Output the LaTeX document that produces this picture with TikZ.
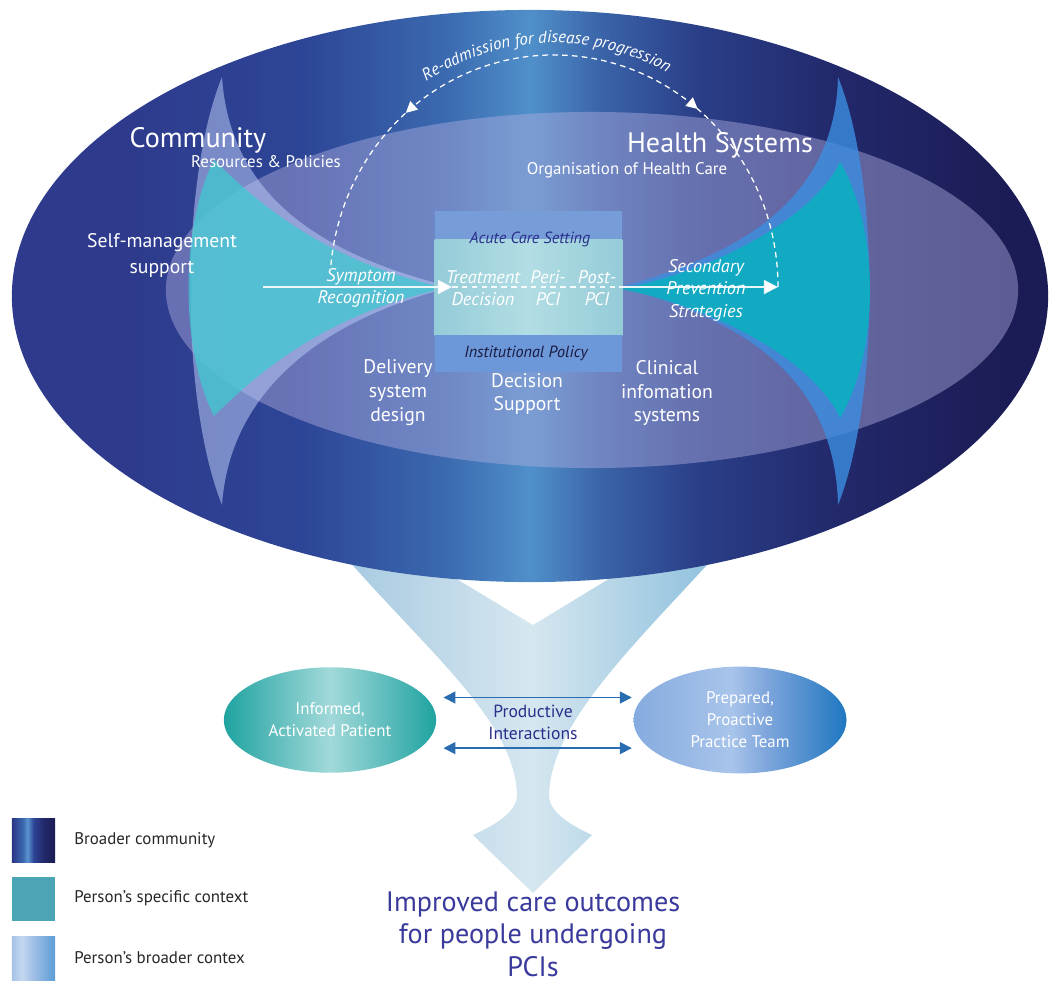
\documentclass[tikz,border=0pt]{standalone}
\usepackage{fontspec}
\setmainfont{PT Sans}
\usepackage{tikz}
\usetikzlibrary{shapes.geometric, arrows.meta, positioning, calc, decorations.markings, decorations.text}

\definecolor{commleft}{HTML}{2E3A8C}
\definecolor{commmid}{HTML}{2D4596}
\definecolor{commsoft}{HTML}{3B6AB0}
\definecolor{commlight}{HTML}{5090CA}
\definecolor{commsofttwo}{HTML}{3A63A8}
\definecolor{commdark}{HTML}{2A3F88}
\definecolor{commright}{HTML}{22286A}
\definecolor{commdeep}{HTML}{1B1C55}
\definecolor{lavender}{HTML}{B0AEE0}
\definecolor{hornpale}{HTML}{B8C8F5}
\definecolor{hornblue}{HTML}{3C8EE0}
\definecolor{tealpale}{HTML}{40C8D0}
\definecolor{tealdeep}{HTML}{0AB0C0}
\definecolor{bandblue}{HTML}{779DD8}
\definecolor{bandlow}{HTML}{6C97D8}
\definecolor{bandteal}{HTML}{94CCD8}
\definecolor{bandtealhi}{HTML}{B2DDE4}
\definecolor{inkblue}{HTML}{2A2F8A}
\definecolor{inkdark}{HTML}{1A1A40}
\definecolor{outcome}{HTML}{3A3A9C}
\definecolor{arrowblue}{HTML}{2A6CB0}
\definecolor{funnelside}{HTML}{A4C8E0}
\definecolor{funnelmid}{HTML}{D6E7F0}
\definecolor{funnelright}{HTML}{8BBEDC}
\definecolor{patientedge}{HTML}{1FA3A0}
\definecolor{patientmid}{HTML}{A2D9DA}
\definecolor{teamleft}{HTML}{86ABDF}
\definecolor{teammid}{HTML}{A8C4EA}
\definecolor{teamdip}{HTML}{7FA6DC}
\definecolor{teamright}{HTML}{1E77C0}
\definecolor{legnavy}{HTML}{2B3587}
\definecolor{legstripe}{HTML}{5C94D0}
\definecolor{legnavydark}{HTML}{1A1C55}
\definecolor{legteal}{HTML}{4BA5B5}
\definecolor{legpale}{HTML}{A8C3E8}
\definecolor{legpalehi}{HTML}{C4D7F0}
\definecolor{legpaleend}{HTML}{5A9DD6}

\pgfdeclarehorizontalshading{broadcomm}{100bp}{color(0bp)=(commleft); color(25bp)=(commleft); color(30bp)=(commleft); color(39bp)=(commmid); color(46bp)=(commsoft); color(50bp)=(commlight); color(53.5bp)=(commsofttwo); color(58bp)=(commdark); color(65bp)=(commright); color(73bp)=(commdeep); color(100bp)=(commdeep)}
\pgfdeclarehorizontalshading{teamshade}{100bp}{color(0bp)=(teamleft); color(25bp)=(teamleft); color(48bp)=(teammid); color(56bp)=(teamdip); color(75bp)=(teamright); color(100bp)=(teamright)}
\pgfdeclarehorizontalshading{legdark}{100bp}{color(0bp)=(legnavy); color(25bp)=(legnavy); color(38bp)=(commsoft); color(43bp)=(legstripe); color(50bp)=(commmid); color(62bp)=(commright); color(75bp)=(legnavydark); color(100bp)=(legnavydark)}
\pgfdeclarehorizontalshading{legpale}{100bp}{color(0bp)=(legpale); color(25bp)=(legpale); color(37bp)=(legpalehi); color(47bp)=(legpale); color(75bp)=(legpaleend); color(100bp)=(legpaleend)}

\begin{document}
\begin{tikzpicture}[x=0.025cm, y=-0.025cm,
    lbl/.style={text=white, align=center, font=\fontsize{14}{17}\selectfont},
    itlbl/.style={text=white, align=center, font=\fontsize{13}{15.6}\selectfont\itshape},
    bigtitle/.style={text=white, font=\fontsize{20}{24}\selectfont},
    subtitle/.style={text=white, font=\fontsize{12}{14}\selectfont},
    bandlabel/.style={font=\fontsize{11.5}{14}\selectfont\itshape},
    flow/.style={white, line width=1.4pt, draw opacity=0.9},
    readmit/.style={white, line width=0.9pt, dash pattern=on 4pt off 3pt},
    interact/.style={arrowblue, line width=1.2pt, {Triangle[length=8.5pt,width=8.5pt]}-{Triangle[length=8.5pt,width=8.5pt]}},
    oval/.style={ellipse, inner sep=0pt, text=white, align=center, font=\fontsize{12}{15.6}\selectfont},
    legbox/.style={rectangle, minimum width=30.6pt, minimum height=31.3pt, inner sep=0pt},
    legtext/.style={font=\fontsize{12}{14}\selectfont, text=black!85, anchor=west}
  ]
  \useasboundingbox (0,0) rectangle (1052,982);

  % funnel down to the outcomes
  \shade[left color=funnelside, right color=funnelright, middle color=funnelmid]
    (335,545) .. controls (425,650) and (515,720) .. (517,795)
    .. controls (517,812) and (495,825) .. (473,835)
    -- (533,893) -- (592,835)
    .. controls (570,825) and (549,812) .. (549,795)
    .. controls (551,720) and (640,640) .. (725,545)
    -- (640,560) -- (533,625) -- (425,560) -- cycle;

  % broader community
  \shade[shading=broadcomm] (530,296) ellipse [x radius=12.95cm, y radius=7.15cm];
  % person's broader context
  \fill[lavender, fill opacity=0.45] (592,290) ellipse [x radius=10.65cm, y radius=4.45cm];

  % horns
  \fill[hornpale, fill opacity=0.55] (222,77) .. controls (230,195) and (320,255) .. (452,287)
    .. controls (320,320) and (230,392) .. (222,505)
    .. controls (180,400) and (180,180) .. cycle;
  \fill[hornblue, fill opacity=0.8] (838,77) .. controls (835,200) and (740,255) .. (620,287)
    .. controls (740,319) and (835,375) .. (838,505)
    .. controls (880,400) and (880,180) .. cycle;
  \fill[tealpale, fill opacity=0.75] (214,160) .. controls (250,195) and (320,262) .. (447,288)
    .. controls (320,314) and (250,381) .. (214,416)
    .. controls (180,350) and (180,226) .. cycle;
  \fill[tealdeep, fill opacity=0.85] (840,162) .. controls (815,215) and (720,270) .. (620,289)
    .. controls (720,308) and (815,363) .. (840,418)
    .. controls (880,350) and (880,230) .. cycle;

  % acute care setting
  \node[rectangle, minimum width=133pt, minimum height=114.5pt, inner sep=0pt] (acute) at (528.5,291.5) {};
  \fill[bandblue] (acute.north west) rectangle ($(acute.north east)+(0,29)$);
  \shade[left color=bandteal, right color=bandteal, middle color=bandtealhi]
    ($(acute.north west)+(0,29)$) rectangle ($(acute.south east)+(0,-37)$);
  \fill[bandlow] ($(acute.south west)+(0,-37)$) rectangle (acute.south east);
  \node[bandlabel, text=inkblue] (acuteLbl) at (530,239) {Acute Care Setting};
  \node[bandlabel, text=inkdark] (policyLbl) at (526,353) {Institutional Policy};

  % patient journey
  \coordinate (flowStart) at (263,287);
  \coordinate (flowIn) at (452,287);
  \coordinate (flowOut) at (621,287);
  \coordinate (secEnd) at (778,287);
  \coordinate (arcC) at (554,287);
  \draw[flow, -{Triangle[length=10pt,width=10pt]}] (flowStart) -- (flowIn);
  \draw[flow, dash pattern=on 4pt off 3pt, line width=1pt] (flowIn) -- (flowOut);
  \draw[flow, -{Triangle[length=10pt,width=10pt]}] (flowOut) -- (secEnd);

  % re-admission loop
  \draw[readmit, postaction={decorate}, decoration={markings,
      mark=at position 0.29 with {\arrowreversed[white]{Triangle[length=8pt,width=8pt]}},
      mark=at position 0.75 with {\arrow[white]{Triangle[length=8pt,width=8pt]}}}]
    (secEnd) arc[start angle=0, end angle=174.6, x radius=5.6cm, y radius=5.8cm];
  \path[decorate, decoration={text along path, text align=center,
      text={|\fontsize{12}{14}\selectfont\itshape\color{white}|Re-admission for disease progression}}]
    ($(arcC)+(162:5.9cm and 6.1cm)$) arc[start angle=162, end angle=22, x radius=5.9cm, y radius=6.1cm];

  % labels
  \node[bigtitle] (community) at (198,140) {Community};
  \node[subtitle] (resources) at (266,162) {Resources \& Policies};
  \node[bigtitle] (health) at (720,145) {Health Systems};
  \node[subtitle] (organisation) at (627,170) {Organisation of Health Care};
  \node[lbl, font=\fontsize{14}{18.5}\selectfont] (selfmgmt) at (162,255) {Self-management\\support};
  \node[itlbl] (symptom) at (361,288) {Symptom\\Recognition};
  \node[itlbl] (treatment) at (483,288) {Treatment\\Decision};
  \node[itlbl] (peri) at (548,288) {Peri-\\PCI};
  \node[itlbl] (post) at (597,288) {Post-\\PCI};
  \node[itlbl, font=\fontsize{13}{16}\selectfont\itshape] (secondary) at (706,290) {Secondary\\Prevention\\Strategies};
  \node[lbl] (delivery) at (398,393) {Delivery\\system\\design};
  \node[lbl] (decision) at (527,394) {Decision\\Support};
  \node[lbl] (clinical) at (667,393) {Clinical\\infomation\\systems};

  % productive interactions
  \node[oval, minimum width=151pt, minimum height=75pt, left color=patientedge, right color=patientedge, middle color=patientmid] (patient) at (330,720) {Informed,\\Activated Patient};
  \node[oval, minimum width=151.5pt, minimum height=76pt, shading=teamshade] (team) at (740,720) {Prepared,\\Proactive\\Practice Team};
  \node[align=center, text=inkblue, font=\fontsize{12.5}{15.6}\selectfont] (productive) at (533,722) {Productive\\Interactions};
  \draw[interact, shorten <=5pt, shorten >=1pt] ([yshift=16pt]patient.east) -- ([yshift=16pt]team.west);
  \draw[interact, shorten <=5pt, shorten >=1pt] ([yshift=-20pt]patient.east) -- ([yshift=-20pt]team.west);

  \node[align=center, inner sep=0pt, text=outcome, font=\fontsize{20}{23}\selectfont] (outcomes) at (533,934) {Improved care outcomes\\for people undergoing\\PCIs};

  % legend
  \node[legbox, shading=legdark] (legComm) at (33.5,840) {};
  \node[legbox, fill=legteal] (legSpecific) at (33.5,898.5) {};
  \node[legbox, shading=legpale] (legBroad) at (33.5,958) {};
  \node[legtext, right=10pt of legComm] (legCommLbl) {Broader community};
  \node[legtext, right=10pt of legSpecific] (legSpecificLbl) {Person’s specific context};
  \node[legtext, right=10pt of legBroad] (legBroadLbl) {Person’s broader contex};
\end{tikzpicture}
\end{document}
